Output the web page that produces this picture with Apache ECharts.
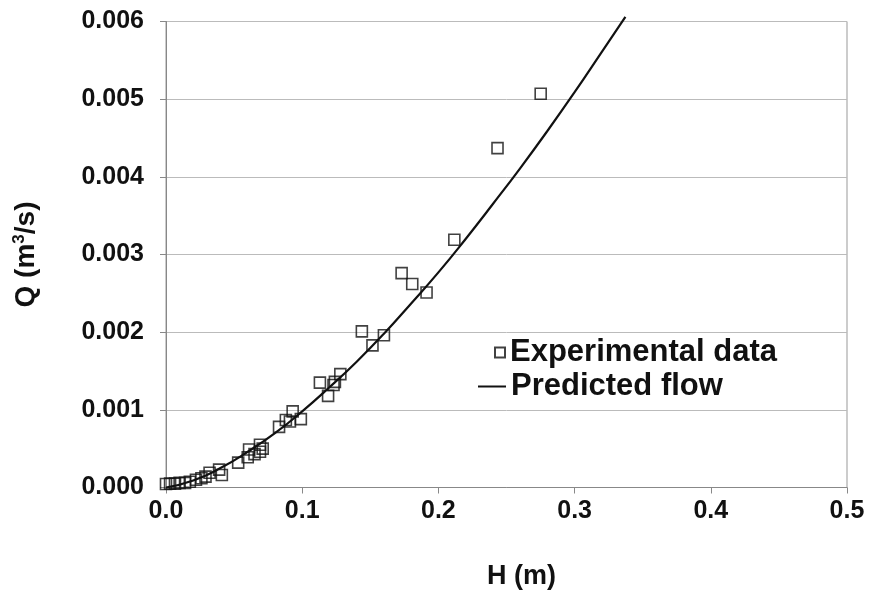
<!DOCTYPE html>
<html>
<head>
<meta charset="utf-8">
<script src="https://cdn.jsdelivr.net/npm/echarts@6/dist/echarts.min.js"></script>
<style>html,body{margin:0;padding:0;background:#fff}#c{width:874px;height:601px}</style>
</head>
<body>
<div id="c"></div>
<script>
// Experimental data: H (m), Q (m3/s)
const expH = [0.000, 0.003, 0.0066, 0.010, 0.014, 0.0175, 0.022, 0.026, 0.029, 0.032, 0.039, 0.041, 0.053, 0.060, 0.061, 0.065, 0.069, 0.069, 0.071,
  0.083, 0.088, 0.091, 0.093, 0.099, 0.113, 0.119, 0.123, 0.124, 0.128, 0.1438, 0.1516, 0.160, 0.173, 0.1808, 0.1913, 0.2117, 0.2434, 0.2751];
const expQ = [0.000045, 0.00005, 0.00005, 0.00006, 0.00006, 0.000075, 0.0001, 0.00012, 0.00014, 0.00019, 0.00023, 0.00016, 0.00032, 0.00039, 0.00049, 0.00043, 0.00055, 0.00046, 0.00050,
  0.00078, 0.00087, 0.00085, 0.00098, 0.00088, 0.00135, 0.00118, 0.00132, 0.00136, 0.00146, 0.00201, 0.00183, 0.00196, 0.00276, 0.00262, 0.00251, 0.00319, 0.00437, 0.00507];
// Predicted flow curve
const predH = [0, 0.02, 0.04, 0.06, 0.08, 0.10, 0.12, 0.14, 0.16, 0.18, 0.20, 0.22, 0.24, 0.26, 0.28, 0.30, 0.32, 0.3373];
const predQ = [0, 0.00009, 0.00025, 0.00046, 0.00070, 0.00098, 0.00129, 0.00162, 0.00198, 0.00237, 0.00277, 0.00320, 0.00365, 0.00411, 0.00459, 0.00509, 0.00561, 0.00606];

const font = '"Liberation Sans", Arial, sans-serif';
const legendText = {fontFamily: font, fontWeight: 'bold', fontSize: 31, color: '#111'};
const chart = echarts.init(document.getElementById('c'), null, {renderer: 'canvas'});
chart.setOption({
  animation: false,
  backgroundColor: '#fff',
  grid: {left: 166, right: 27, top: 21.5, bottom: 113.5, show: true, borderColor: '#999', borderWidth: 1},
  legend: [
    {
      left: 489, top: 332, itemWidth: 10, itemHeight: 10, itemGap: 5,
      textStyle: legendText,
      data: [{name: 'Experimental data', icon: 'rect'}]
    },
    {
      left: 473, top: 366, itemWidth: 28, itemHeight: 2, itemGap: 5,
      textStyle: legendText,
      data: [{name: 'Predicted flow', icon: 'rect'}]
    }
  ],
  xAxis: {
    type: 'value', min: 0, max: 0.5, interval: 0.1,
    name: 'H (m)', nameLocation: 'middle', nameGap: 76,
    nameTextStyle: {fontFamily: font, fontWeight: 'bold', fontSize: 27, color: '#111', padding: [0, 0, 0, 30]},
    axisLine: {show: true, lineStyle: {color: '#888', width: 1}},
    axisTick: {show: true, length: 6, lineStyle: {color: '#888'}},
    splitLine: {show: false},
    axisLabel: {fontFamily: font, fontWeight: 'bold', fontSize: 25, color: '#111', margin: 11,
      formatter: v => v.toFixed(1)}
  },
  yAxis: {
    type: 'value', min: 0, max: 0.006, interval: 0.001,
    name: '{b|Q (m}{s|3}{b|/s)}', nameLocation: 'middle', nameGap: 125,
    nameTextStyle: {rich: {
      b: {fontFamily: font, fontWeight: 'bold', fontSize: 28, color: '#111'},
      s: {fontFamily: font, fontWeight: 'bold', fontSize: 17, color: '#111', verticalAlign: 'top', padding: [0, 0, 13, 0]}
    }},
    axisLine: {show: true, lineStyle: {color: '#888', width: 1}},
    axisTick: {show: true, length: 6, lineStyle: {color: '#888'}},
    splitLine: {show: true, lineStyle: {color: '#bbb', width: 1}},
    axisLabel: {fontFamily: font, fontWeight: 'bold', fontSize: 25, color: '#111', margin: 22,
      formatter: v => v.toFixed(3)}
  },
  series: [
    {
      name: 'Experimental data', type: 'scatter', symbol: 'rect', symbolSize: 11,
      itemStyle: {color: 'rgba(255,255,255,0)', borderColor: '#111', borderWidth: 1.6},
      data: expH.map((h, i) => [h, expQ[i]]), z: 3
    },
    {
      name: 'Predicted flow', type: 'line', showSymbol: false, symbol: 'none', smooth: true, clip: false,
      lineStyle: {color: '#111', width: 2.2}, itemStyle: {color: '#111'},
      data: predH.map((h, i) => [h, predQ[i]]), z: 2
    }
  ]
});
</script>
</body>
</html>
